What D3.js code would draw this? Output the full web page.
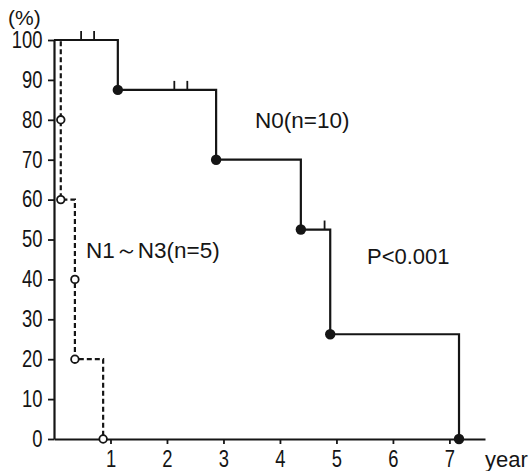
<!DOCTYPE html>
<html>
<head>
<meta charset="utf-8">
<script src="https://cdn.jsdelivr.net/npm/d3@7"></script>
<style>
  html, body { margin: 0; padding: 0; background: #fff; }
  svg { display: block; }
</style>
</head>
<body>
<svg id="chart" width="530" height="471"></svg>
<script>
// ---- data ----
const yTicks = [0, 10, 20, 30, 40, 50, 60, 70, 80, 90, 100];
const xTicks = [1, 2, 3, 4, 5, 6, 7];

// N0 group (n=10): death times and survival (%) after each death
const n0Times = [1.13, 2.87, 4.37, 4.89, 7.17];
const n0Surv = [87.5, 70, 52.5, 26.25, 0];
// N0 censored observations
const n0CensorTimes = [0.48, 0.71, 2.13, 2.36, 4.79];
const n0CensorSurv = [100, 100, 87.5, 87.5, 52.5];

// N1~N3 group (n=5)
const n13Times = [0.12, 0.12, 0.37, 0.37, 0.87];
const n13Surv = [80, 60, 40, 20, 0];

const labels = {
  n0: "N0(n=10)",
  n13: "N1～N3(n=5)",
  p: "P<0.001",
  yUnit: "(%)",
  xUnit: "year"
};

// ---- drawing ----
const svg = d3.select("#chart");
const ink = "#151515";
const txtFont = "'Liberation Sans', Arial, sans-serif";
const squeeze = 0.8;

const x = d3.scaleLinear().domain([0, 7.63]).range([54, 485]);
const y = d3.scaleLinear().domain([0, 100]).range([439, 40]);

// y axis
const yAxis = svg.append("g")
  .attr("transform", `translate(${x(0)},0)`)
  .call(d3.axisLeft(y).tickValues(yTicks).tickSize(6).tickSizeOuter(0).tickPadding(6));
// x axis
const xAxis = svg.append("g")
  .attr("transform", `translate(0,${y(0)})`)
  .call(d3.axisBottom(x).tickValues(xTicks).tickSize(5).tickSizeOuter(0).tickPadding(7));

[yAxis, xAxis].forEach(g => {
  g.select(".domain").attr("stroke", ink).attr("stroke-width", 2.2);
  g.selectAll(".tick line").attr("stroke", ink).attr("stroke-width", 1.8);
  g.selectAll(".tick text").attr("fill", ink)
    .attr("font-family", txtFont).attr("font-size", 23)
    .attr("transform", `scale(${squeeze},1)`);
});
// keep the right edge of y labels in place after the horizontal squeeze
yAxis.selectAll(".tick text").attr("x", -11.5 / squeeze);

function stepPoints(times, surv) {
  const pts = [[0, 100]];
  let prev = 100;
  times.forEach((t, i) => {
    pts.push([t, prev]);
    pts.push([t, surv[i]]);
    prev = surv[i];
  });
  return pts;
}

const line = d3.line().x(d => x(d[0])).y(d => y(d[1]));

// dashed N1~N3 curve
svg.append("path")
  .datum(stepPoints(n13Times, n13Surv))
  .attr("d", line)
  .attr("fill", "none")
  .attr("stroke", ink)
  .attr("stroke-width", 2.2)
  .attr("stroke-dasharray", "5,3");

// solid N0 curve
svg.append("path")
  .datum(stepPoints(n0Times, n0Surv))
  .attr("d", line)
  .attr("fill", "none")
  .attr("stroke", ink)
  .attr("stroke-width", 2.2);

// censor ticks
svg.selectAll("line.censor")
  .data(n0CensorTimes.map((t, i) => [t, n0CensorSurv[i]]))
  .join("line")
  .attr("class", "censor")
  .attr("x1", d => x(d[0])).attr("x2", d => x(d[0]))
  .attr("y1", d => y(d[1])).attr("y2", d => y(d[1]) - 9)
  .attr("stroke", ink).attr("stroke-width", 1.8);

// filled dots N0
svg.selectAll("circle.n0")
  .data(n0Times.map((t, i) => [t, n0Surv[i]]))
  .join("circle")
  .attr("class", "n0")
  .attr("cx", d => x(d[0])).attr("cy", d => y(d[1]))
  .attr("r", 5.2)
  .attr("fill", ink);

// open circles N1~N3
svg.selectAll("circle.n13")
  .data(n13Times.map((t, i) => [t, n13Surv[i]]))
  .join("circle")
  .attr("class", "n13")
  .attr("cx", d => x(d[0])).attr("cy", d => y(d[1]))
  .attr("r", 3.8)
  .attr("fill", "#fff")
  .attr("stroke", ink)
  .attr("stroke-width", 1.8);

// texts
function addText(str, tx, ty, size) {
  svg.append("text")
    .attr("x", tx).attr("y", ty)
    .attr("font-family", txtFont)
    .attr("font-size", size)
    .attr("fill", ink)
    .text(str);
}
addText(labels.yUnit, 8, 25, 21);
addText(labels.xUnit, 485, 467, 22);
addText(labels.n0, 255, 128, 22.5);
addText(labels.n13, 86, 258, 22.5);
addText(labels.p, 367, 264, 22);
</script>
</body>
</html>
